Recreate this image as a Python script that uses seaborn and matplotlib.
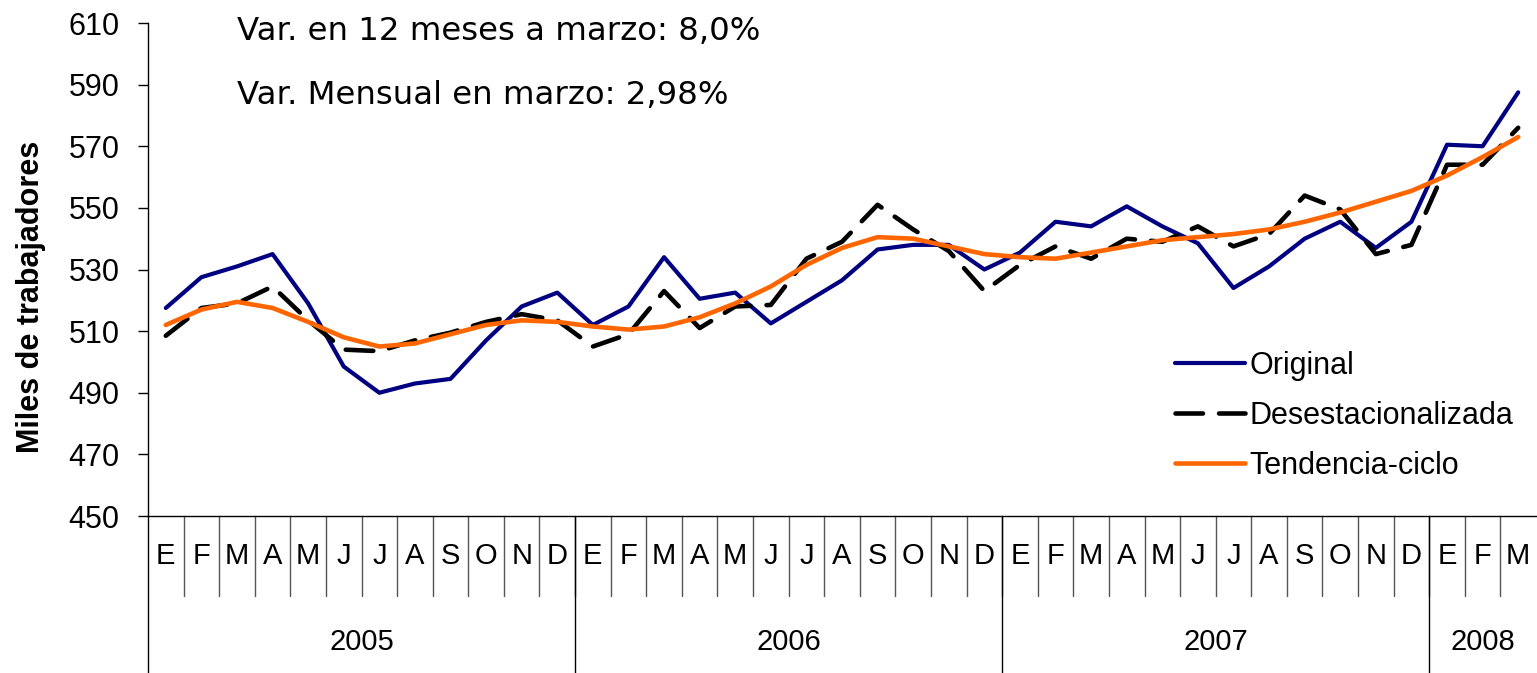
import numpy as np
import pandas as pd
import matplotlib
matplotlib.use('Agg')
import matplotlib.pyplot as plt
import matplotlib.transforms as mtransforms
from matplotlib import font_manager
import seaborn as sns

# datos (miles de trabajadores), enero 2005 - marzo 2008
meses = ['E', 'F', 'M', 'A', 'M', 'J', 'J', 'A', 'S', 'O', 'N', 'D'] * 3 + ['E', 'F', 'M']
anios = ['2005', '2006', '2007', '2008']
meses_por_anio = [12, 12, 12, 3]

original = [517.5, 527.5, 531, 535, 519, 498.5, 490, 493, 494.5, 507, 518, 522.5,
            512, 518, 534, 520.5, 522.5, 512.5, 519.5, 526.5, 536.5, 538, 538, 530,
            535.5, 545.5, 544, 550.5, 544, 538.5, 524, 531, 540, 545.5, 537, 545.5,
            570.5, 570, 587.5]
desestacionalizada = [508.5, 517.5, 519, 524.5, 513.5, 504, 503.5, 507, 509.5, 513, 515.5, 513.5,
                      505, 509, 523, 511, 518, 518.5, 533.5, 539, 551, 543, 536, 523,
                      531.5, 537.5, 533.5, 540, 539, 544, 537.5, 541.5, 554, 549.5, 535, 538,
                      564, 564, 576]
tendencia = [512, 517, 519.5, 517.5, 513, 508, 505, 506, 509, 512, 513.5, 513,
             511.5, 510.5, 511.5, 514.5, 519, 524.5, 531.5, 537, 540.5, 540, 537.5, 535,
             534, 533.5, 535.5, 537.5, 539.5, 540.5, 541.5, 543, 545.5, 548.5, 552, 555.5,
             560.5, 566.5, 573]

series = ['Original', 'Desestacionalizada', 'Tendencia-ciclo']
colores = ['#000080', '#000000', '#FF6600']

n = len(meses)
df = pd.DataFrame({
    'idx': list(range(n)) * 3,
    'valor': original + desestacionalizada + tendencia,
    'serie': [series[0]] * n + [series[1]] * n + [series[2]] * n,
})

sns.set_style('white')
plt.rcParams['font.family'] = ['Liberation Sans', 'DejaVu Sans']
plt.rcParams['text.color'] = 'black'
plt.rcParams['axes.labelcolor'] = 'black'
plt.rcParams['xtick.color'] = 'black'
plt.rcParams['ytick.color'] = 'black'

W, H = 1537, 673
fig = plt.figure(figsize=(W / 100, H / 100), dpi=100)
ax_l, ax_r, ax_t, ax_b = 148, 1536, 23, 516
ax = fig.add_axes([ax_l / W, 1 - ax_b / H, (ax_r - ax_l) / W, (ax_b - ax_t) / H])

sns.lineplot(data=df, x='idx', y='valor', hue='serie', style='serie',
             palette=dict(zip(series, colores)),
             dashes={series[0]: '', series[1]: (6, 3.5), series[2]: ''},
             linewidth=3, legend=False, ax=ax)

for line, lw in zip(ax.lines[:3], [3, 3.3, 3.3]):
    line.set_linewidth(lw)
    line.set_solid_capstyle('round')
    line.set_dash_capstyle('round')
    line.set_solid_joinstyle('round')

ax.set_xlim(-0.5, n - 0.5)
ax.set_ylim(450, 610)
ax.set_yticks(np.arange(450, 611, 20))
ax.tick_params(axis='y', labelsize=22, length=7, width=1, color='black',
               labelcolor='black', direction='out', left=True, pad=13.5)
ax.set_xticks([])
ax.set_xlabel('')
ax.set_ylabel('')
for s in ['top', 'right']:
    ax.spines[s].set_visible(False)
for s in ['left', 'bottom']:
    ax.spines[s].set_color('black')
    ax.spines[s].set_linewidth(1)

fig.text(31 / W, 1 - 297 / H, 'Miles de trabajadores', rotation=90, fontsize=22,
         fontweight='bold', ha='center', va='center', color='black')

# eje x de dos niveles: meses y años
trans = mtransforms.blended_transform_factory(ax.transData, ax.transAxes)
alto = ax_b - ax_t
y_mes = -(556 - ax_b) / alto
y_anio = -(642 - ax_b) / alto
y_sep_mes = -(596 - ax_b) / alto
y_sep_anio = -(673 - ax_b) / alto

for i, m in enumerate(meses):
    ax.text(i, y_mes, m, transform=trans, ha='center', va='center', fontsize=21, color='black')
for i in range(n - 1):
    ax.plot([i + 0.5, i + 0.5], [0, y_sep_mes], transform=trans, color='#555555', lw=1, clip_on=False)

inicio = -0.5
for anio, k in zip(anios, meses_por_anio):
    ax.plot([inicio, inicio], [0, y_sep_anio], transform=trans, color='black', lw=1, clip_on=False)
    ax.text(inicio + k / 2, y_anio, anio, transform=trans, ha='center', va='center',
            fontsize=21, color='black')
    inicio += k

# textos de variación
nombres = {f.name for f in font_manager.fontManager.ttflist}
if 'Liberation Sans Narrow' in nombres:
    fuente, tam = 'Liberation Sans Narrow', 29
else:
    fuente, tam = 'DejaVu Sans', 23.3
fig.text(237 / W, 1 - 32 / H, 'Var. en 12 meses a marzo: 8,0%', fontsize=tam,
         family=[fuente, 'DejaVu Sans'], ha='left', va='center', color='black')
fig.text(237 / W, 1 - 95 / H, 'Var. Mensual en marzo: 2,98%', fontsize=tam,
         family=[fuente, 'DejaVu Sans'], ha='left', va='center', color='black')

leg = ax.legend(handles=ax.lines[:3], labels=series, loc='center left',
                bbox_to_anchor=((1175 - ax_l) / (ax_r - ax_l), (ax_b - 416) / alto),
                frameon=False, fontsize=22, handlelength=2.3, handletextpad=0.15,
                labelspacing=0.65, borderpad=0, borderaxespad=0)
for t in leg.get_texts():
    t.set_color('black')

fig.savefig('out.png', dpi=100)
